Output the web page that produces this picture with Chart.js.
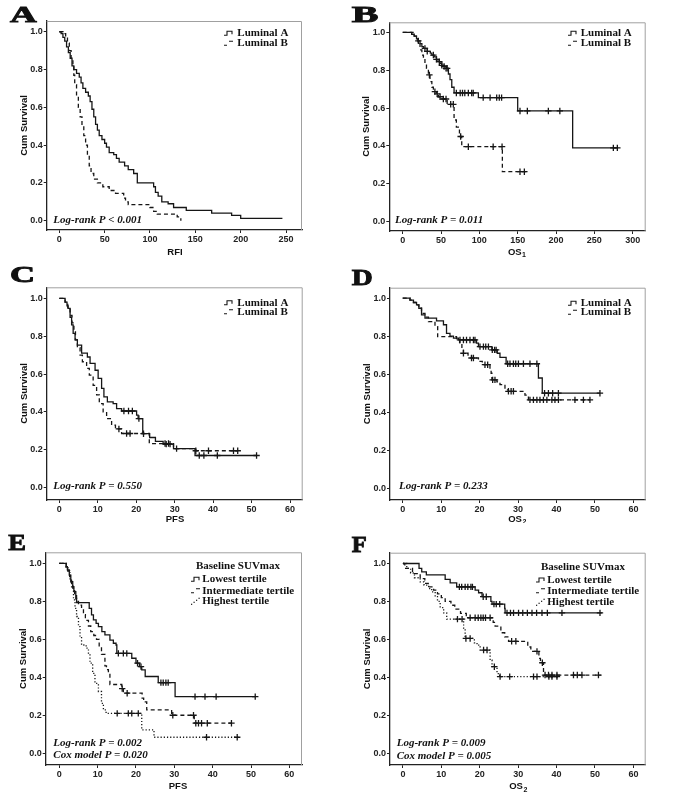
<!DOCTYPE html>
<html>
<head>
<meta charset="utf-8">
<script src="https://cdn.jsdelivr.net/npm/chart.js@4.4.1/dist/chart.umd.min.js"></script>
<style>
  html, body { margin: 0; padding: 0; background: #fff; }
  body { width: 685px; height: 811px; position: relative; overflow: hidden; }
  canvas { position: absolute; }
</style>
</head>
<body>
<script>
// Curvas de Kaplan-Meier: pares [tempo, sobrevida]; censuras: [tempo, nível]
const yTicks = [0, 0.2, 0.4, 0.6, 0.8, 1.0];
const ticksRFI = [0, 50, 100, 150, 200, 250];
const ticksOS1 = [0, 50, 100, 150, 200, 250, 300];
const ticks60 = [0, 10, 20, 30, 40, 50, 60];

// A - RFI
const rfiLumA = [[0,1],[2,0.99],[4,0.97],[6,0.95],[8,0.92],[10,0.89],[12,0.86],[14,0.82],[16,0.80],[19,0.78],[22,0.76],[24,0.73],[26,0.70],[29,0.68],[32,0.66],[34,0.63],[36,0.59],[38,0.55],[40,0.51],[42,0.48],[44,0.45],[47,0.43],[50,0.41],[52,0.39],[55,0.36],[60,0.35],[63,0.33],[66,0.31],[72,0.29],[76,0.27],[82,0.25],[86,0.20],[104,0.18],[106,0.15],[109,0.13],[113,0.10],[120,0.09],[126,0.07],[140,0.055],[168,0.04],[190,0.028],[200,0.013],[246,0.013]];
const rfiLumB = [[0,1],[4,0.99],[7,0.97],[9,0.94],[11,0.90],[13,0.86],[15,0.82],[16,0.77],[17,0.72],[19,0.66],[21,0.60],[23,0.55],[25,0.50],[27,0.45],[29,0.40],[31,0.34],[33,0.29],[35,0.25],[38,0.22],[42,0.20],[48,0.18],[55,0.16],[62,0.145],[71,0.12],[73,0.10],[76,0.085],[95,0.085],[100,0.07],[104,0.05],[108,0.035],[127,0.035],[130,0.02],[134,0]];

// B - OS1
const os1LumA = [[0,1],[11.7,0.99],[15,0.98],[18,0.965],[20,0.955],[22.6,0.94],[25,0.925],[27,0.915],[32,0.90],[36,0.89],[38,0.88],[41,0.87],[44,0.857],[46,0.845],[48.7,0.836],[51,0.826],[53,0.82],[57,0.81],[59.6,0.78],[61.7,0.75],[64,0.71],[67,0.68],[98.7,0.655],[150,0.585],[221.7,0.39],[281,0.39]];
const os1LumACens = [[20.4,0.955],[29,0.915],[32,0.90],[40,0.88],[44,0.857],[47.8,0.845],[51,0.826],[54,0.82],[56.5,0.81],[58,0.81],[70,0.68],[75,0.68],[78,0.68],[81,0.68],[85.6,0.68],[90,0.68],[92,0.68],[105,0.655],[114,0.655],[122.6,0.655],[126,0.655],[129,0.655],[153,0.585],[162.6,0.585],[190,0.585],[205,0.585],[274.8,0.39],[280,0.39]];
const os1LumB = [[0,1],[15,0.98],[20,0.95],[22.6,0.907],[25,0.88],[27,0.86],[29,0.835],[31,0.81],[33.5,0.775],[35.6,0.74],[38,0.71],[40,0.70],[42,0.687],[44,0.675],[46.5,0.66],[51,0.648],[58,0.62],[67,0.537],[70,0.50],[74,0.45],[77,0.396],[130,0.264],[162,0.264]];
const os1LumBCens = [[34.8,0.775],[42,0.687],[45,0.675],[48.7,0.66],[53,0.648],[56.5,0.648],[62.6,0.62],[66,0.62],[75.6,0.45],[85.6,0.396],[118,0.396],[129.6,0.396],[153,0.264],[158.7,0.264]];

// C - PFS (luminal)
const pfsLumA = [[0,1],[1.5,0.98],[2.0,0.96],[2.3,0.947],[2.8,0.90],[3.2,0.86],[3.6,0.815],[4.1,0.78],[4.7,0.753],[5.8,0.71],[7.3,0.69],[8.0,0.656],[9.3,0.62],[10.1,0.577],[11.0,0.524],[11.6,0.48],[12.5,0.453],[14.0,0.444],[14.9,0.417],[16.2,0.405],[20.1,0.383],[20.5,0.365],[21.7,0.285],[23.5,0.265],[25.0,0.245],[27.0,0.23],[29.7,0.206],[35.3,0.17],[51.3,0.17]];
const pfsLumACens = [[16.8,0.405],[18.0,0.405],[19.0,0.405],[20.7,0.365],[21.9,0.285],[27.8,0.23],[28.8,0.23],[36.4,0.17],[37.6,0.17],[41.1,0.17],[51.3,0.17]];
const pfsLumB = [[0,1],[1.5,0.98],[2.2,0.95],[2.8,0.91],[3.3,0.87],[3.8,0.83],[4.2,0.78],[4.7,0.74],[5.4,0.70],[6.0,0.665],[7.1,0.63],[7.8,0.594],[8.8,0.54],[9.7,0.49],[10.4,0.444],[11.4,0.40],[12.3,0.365],[13.6,0.33],[14.6,0.31],[16.2,0.286],[23.4,0.233],[29.7,0.206],[35.5,0.195],[46.4,0.195]];
const pfsLumBCens = [[15.5,0.31],[17.5,0.286],[18.4,0.286],[27.5,0.233],[28.4,0.233],[30.5,0.206],[35.5,0.195],[38.8,0.195],[45.3,0.195],[46.4,0.195]];

// D - OS2 (luminal)
const os2LumA = [[0,1],[1.9,0.99],[2.8,0.977],[3.6,0.965],[4.2,0.947],[4.9,0.912],[5.8,0.895],[8.8,0.88],[10.6,0.86],[11.4,0.815],[12.3,0.80],[13.2,0.79],[14.5,0.78],[19.2,0.763],[19.7,0.745],[23.2,0.728],[24.6,0.71],[25.3,0.688],[26.9,0.655],[35.3,0.58],[36.3,0.50],[51.3,0.50]];
const os2LumACens = [[14.9,0.78],[15.8,0.78],[16.6,0.78],[17.5,0.78],[18.4,0.78],[18.8,0.78],[20.1,0.745],[21.0,0.745],[21.6,0.745],[22.3,0.745],[23.3,0.728],[23.9,0.728],[24.3,0.728],[27.3,0.655],[27.9,0.655],[28.8,0.655],[29.4,0.655],[30.1,0.655],[31.4,0.655],[33.1,0.655],[34.9,0.655],[36.9,0.50],[37.9,0.50],[39.0,0.50],[40.5,0.50],[51.3,0.50]];
const os2LumB = [[0,1],[1.9,0.99],[2.8,0.977],[3.6,0.965],[4.2,0.947],[4.9,0.92],[5.8,0.90],[6.7,0.877],[8.4,0.85],[9.1,0.798],[14.0,0.78],[14.8,0.76],[15.4,0.736],[15.8,0.71],[17.0,0.70],[17.9,0.685],[19.7,0.667],[20.7,0.65],[22.7,0.624],[23.0,0.605],[23.2,0.57],[24.5,0.56],[25.3,0.545],[26.6,0.517],[27.5,0.51],[31.8,0.49],[32.7,0.465],[48.7,0.465]];
const os2LumBCens = [[15.8,0.71],[17.9,0.685],[18.4,0.685],[21.4,0.65],[22.1,0.65],[23.4,0.57],[24.0,0.57],[27.5,0.51],[28.2,0.51],[28.8,0.51],[33.1,0.465],[34.0,0.465],[34.9,0.465],[35.7,0.465],[36.6,0.465],[37.5,0.465],[38.8,0.465],[39.6,0.465],[40.5,0.465],[44.8,0.465],[47.0,0.465],[48.7,0.465]];

// E - PFS por tercil de SUVmax
const pfsLow = [[0,1],[1.8,0.982],[2.1,0.965],[2.6,0.938],[3.0,0.904],[3.5,0.877],[3.8,0.851],[4.3,0.815],[4.5,0.793],[7.8,0.763],[8.4,0.728],[8.9,0.702],[9.6,0.684],[10.2,0.667],[11.1,0.64],[11.9,0.623],[13.2,0.596],[14.1,0.579],[14.8,0.57],[15.0,0.526],[18.9,0.50],[20.0,0.474],[20.9,0.456],[21.5,0.439],[22.4,0.404],[25.8,0.372],[30.2,0.298],[51.2,0.298]];
const pfsLowCens = [[15.4,0.526],[16.7,0.526],[17.6,0.526],[20.4,0.474],[21.3,0.456],[26.5,0.372],[27.1,0.372],[27.8,0.372],[28.4,0.372],[35.4,0.298],[38.0,0.298],[40.9,0.298],[51.1,0.298]];
const pfsInt = [[0,1],[1.8,0.982],[2.2,0.96],[2.7,0.93],[3.1,0.90],[3.5,0.87],[4.0,0.84],[4.5,0.80],[5.0,0.78],[5.8,0.76],[6.3,0.73],[6.8,0.70],[7.6,0.67],[8.2,0.64],[9.0,0.62],[9.7,0.60],[10.4,0.56],[11.0,0.52],[11.9,0.46],[12.3,0.44],[12.8,0.42],[13.2,0.362],[16.3,0.34],[16.7,0.316],[21.6,0.29],[22.0,0.27],[22.8,0.228],[29.3,0.20],[35.2,0.158],[44.9,0.158]];
const pfsIntCens = [[16.4,0.34],[17.7,0.316],[29.6,0.20],[35.0,0.20],[35.6,0.158],[36.3,0.158],[37.1,0.158],[38.6,0.158],[44.9,0.158]];
const pfsHigh = [[0,1],[1.8,0.98],[2.3,0.95],[2.8,0.91],[3.2,0.87],[3.7,0.807],[4.1,0.763],[4.5,0.72],[5.0,0.667],[5.4,0.614],[5.8,0.57],[7.0,0.553],[7.6,0.518],[8.0,0.474],[8.7,0.42],[9.3,0.368],[10.2,0.325],[11.0,0.263],[11.5,0.228],[12.2,0.21],[21.5,0.123],[24.7,0.084],[46.7,0.084]];
const pfsHighCens = [[15.1,0.21],[18.0,0.21],[18.9,0.21],[20.6,0.21],[38.4,0.084],[46.4,0.084]];

// F - OS2 por tercil de SUVmax
const os2Low = [[0,1],[4.2,0.974],[4.9,0.956],[6.1,0.94],[11.0,0.916],[12.3,0.898],[14.0,0.877],[18.8,0.86],[19.7,0.846],[20.6,0.825],[22.9,0.80],[23.2,0.786],[26.5,0.763],[26.6,0.74],[51.8,0.74]];
const os2LowCens = [[14.7,0.877],[15.3,0.877],[16.2,0.877],[16.9,0.877],[17.7,0.877],[18.1,0.877],[20.9,0.825],[21.7,0.825],[23.7,0.786],[24.3,0.786],[25.2,0.786],[27.1,0.74],[28.0,0.74],[28.8,0.74],[30.1,0.74],[31.2,0.74],[32.4,0.74],[33.6,0.74],[34.8,0.74],[36.2,0.74],[37.6,0.74],[41.4,0.74],[51.3,0.74]];
const os2Int = [[0,1],[0.5,0.974],[2.5,0.947],[4.5,0.92],[5.7,0.895],[6.6,0.877],[8.0,0.86],[9.0,0.84],[10.0,0.82],[11.0,0.80],[12.5,0.78],[13.5,0.76],[15.0,0.737],[16.5,0.714],[23.5,0.69],[24.0,0.67],[25.5,0.635],[26.5,0.613],[27.5,0.59],[32.5,0.56],[33.3,0.537],[35.4,0.50],[35.8,0.477],[36.6,0.412],[51.5,0.412]];
const os2IntCens = [[17.5,0.714],[18.8,0.714],[19.6,0.714],[20.3,0.714],[20.9,0.714],[21.5,0.714],[22.7,0.714],[28.3,0.59],[29.4,0.59],[34.9,0.537],[36.3,0.477],[37.0,0.412],[37.9,0.412],[38.8,0.412],[40.1,0.412],[44.4,0.412],[45.4,0.412],[46.6,0.412],[50.9,0.412]];
const os2High = [[0,1],[1.0,0.974],[2.0,0.95],[3.0,0.925],[4.5,0.903],[5.5,0.886],[6.7,0.868],[7.5,0.85],[8.4,0.825],[9.0,0.80],[9.7,0.768],[10.6,0.74],[11.4,0.707],[15.8,0.65],[16.2,0.605],[18.6,0.582],[19.3,0.57],[20.1,0.544],[22.7,0.49],[23.2,0.456],[24.5,0.42],[25.2,0.404],[40.5,0.404]];
const os2HighCens = [[14.2,0.707],[15.4,0.707],[16.4,0.605],[17.5,0.605],[21.0,0.544],[21.9,0.544],[23.8,0.456],[25.3,0.404],[27.8,0.404],[34.0,0.404],[34.9,0.404],[38.0,0.404],[38.8,0.404],[40.1,0.404]];

const INK = '#161616';
const SOLID = [], DASH = [4, 3], DOT = [1.2, 2];

// Plugin: moldura, letras, títulos, legenda e textos de P
const panelText = {
    id: 'panelText',
    afterDraw(chart, args, o) {
        const ctx = chart.ctx;
        const ox = o.origin[0], oy = o.origin[1];
        const a = chart.chartArea;
        ctx.save();
        // moldura cinza no topo e à direita
        ctx.strokeStyle = '#a0a0a0';
        ctx.lineWidth = 1;
        ctx.beginPath();
        ctx.moveTo(a.left, a.top + 0.5);
        ctx.lineTo(a.right - 0.5, a.top + 0.5);
        ctx.lineTo(a.right - 0.5, a.bottom);
        ctx.stroke();

        ctx.fillStyle = '#111';
        // letra do painel (mais grossa, como no original)
        ctx.font = 'bold 23px "Liberation Serif", serif';
        ctx.textBaseline = 'alphabetic';
        ctx.textAlign = 'left';
        const lw = ctx.measureText(o.letter[0]).width;
        ctx.save();
        ctx.translate(o.letter[1] - ox, o.letter[2] - oy);
        ctx.scale(o.letter[3] / lw, 1);
        ctx.fillText(o.letter[0], 0, 0);
        ctx.strokeStyle = '#111';
        ctx.lineWidth = 0.9;
        ctx.strokeText(o.letter[0], 0, 0);
        ctx.restore();

        // título eixo y
        ctx.font = 'bold 9.5px "Liberation Sans", Arial, sans-serif';
        ctx.textAlign = 'center';
        ctx.textBaseline = 'middle';
        ctx.save();
        ctx.translate(o.yTitle[0] - ox, o.yTitle[1] - oy);
        ctx.rotate(-Math.PI / 2);
        ctx.fillText('Cum Survival', 0, 0);
        ctx.restore();

        // título eixo x (com subscrito opcional)
        const xt = o.xTitle;
        ctx.font = 'bold 9.5px "Liberation Sans", Arial, sans-serif';
        const w1 = ctx.measureText(xt[0]).width;
        ctx.font = 'bold 7px "Liberation Sans", Arial, sans-serif';
        const w2 = xt[1] ? ctx.measureText(xt[1]).width : 0;
        const sx = xt[2] - ox - (w1 + w2) / 2;
        ctx.textAlign = 'left';
        ctx.font = 'bold 9.5px "Liberation Sans", Arial, sans-serif';
        ctx.fillText(xt[0], sx, xt[3] - oy);
        if (xt[1]) {
            ctx.font = 'bold 7px "Liberation Sans", Arial, sans-serif';
            ctx.fillText(xt[1], sx + w1 + 0.5, xt[3] - oy + 3);
        }

        // textos de P
        ctx.font = 'italic bold 11px "Liberation Serif", serif';
        o.pTexts.forEach(p => ctx.fillText(p[0], p[1] - ox, p[2] - oy));

        // legenda
        ctx.font = 'bold 11px "Liberation Serif", serif';
        if (o.legendTitle) {
            ctx.fillText(o.legendTitle[0], o.legendTitle[1] - ox, o.legendTitle[2] - oy);
        }
        o.legend.forEach(it => {
            const tx = it.x - ox, ty = it.y - oy, gx = it.gx - ox;
            ctx.fillText(it.label, tx, ty);
            ctx.strokeStyle = INK;
            ctx.lineWidth = 1.1;
            ctx.beginPath();
            if (it.style === 'solid') {
                ctx.moveTo(gx, ty + 2); ctx.lineTo(gx + 3, ty + 2); ctx.lineTo(gx + 3, ty - 2);
                ctx.lineTo(gx + 8, ty - 2); ctx.lineTo(gx + 8, ty + 1);
                ctx.stroke();
            } else if (it.style === 'dash') {
                ctx.moveTo(gx, ty + 2); ctx.lineTo(gx + 3, ty + 2);
                ctx.moveTo(gx + 5, ty - 2); ctx.lineTo(gx + 9, ty - 2);
                ctx.stroke();
            } else {
                ctx.fillStyle = INK;
                [[0, 3], [2.5, 1], [5, -1], [7.5, -3]].forEach(d => ctx.fillRect(gx + d[0], ty + d[1], 1.2, 1.2));
                ctx.fillStyle = '#111';
            }
        });
        ctx.restore();
    }
};

function xy(arr) {
    return arr.map(p => ({ x: p[0], y: p[1] }));
}

function makePanel(p) {
    const [bx, by, bw, bh] = p.box;
    const [L, T, R, B] = p.frame;
    const canvas = document.createElement('canvas');
    canvas.width = bw;
    canvas.height = bh;
    canvas.style.left = bx + 'px';
    canvas.style.top = by + 'px';
    document.body.appendChild(canvas);

    const datasets = [];
    p.series.forEach(s => {
        datasets.push({
            data: xy(s.curve), showLine: true, stepped: true,
            borderColor: INK, borderWidth: 1.3, borderDash: s.dash,
            pointRadius: 0, fill: false
        });
        if (s.cens) {
            datasets.push({
                data: xy(s.cens), showLine: false, pointStyle: 'cross',
                pointRadius: 3.2, borderColor: INK, borderWidth: 1.3
            });
        }
    });

    const tickFont = { family: '"Liberation Sans", Arial, sans-serif', size: 9, weight: 'bold' };
    new Chart(canvas, {
        type: 'scatter',
        data: { datasets },
        options: {
            responsive: false,
            animation: false,
            events: [],
            layout: { padding: { top: T - by, right: bx + bw - R, left: 0, bottom: 0 } },
            plugins: { legend: { display: false }, tooltip: { enabled: false }, panelText: p.text },
            scales: {
                x: {
                    type: 'linear', min: p.xRange[0], max: p.xRange[1],
                    afterFit: s => { s.height = by + bh - B; },
                    afterBuildTicks: s => { s.ticks = p.xTicks.map(v => ({ value: v })); },
                    grid: { drawOnChartArea: false, tickLength: 3, color: '#222' },
                    border: { color: '#222', width: 1.3 },
                    ticks: { color: '#222', font: tickFont, padding: 1, maxRotation: 0 }
                },
                y: {
                    type: 'linear', min: p.yRange[0], max: p.yRange[1],
                    afterFit: s => { s.width = L - bx; },
                    afterBuildTicks: s => { s.ticks = yTicks.map(v => ({ value: v })); },
                    grid: { drawOnChartArea: false, tickLength: 3, color: '#222' },
                    border: { color: '#222', width: 1.3 },
                    ticks: { color: '#222', font: tickFont, padding: 1, callback: v => v.toFixed(1) }
                }
            }
        },
        plugins: [panelText]
    });
}

const lumLegend = (gx, x, y1, y2) => [
    { label: 'Luminal A', style: 'solid', gx, x, y: y1 },
    { label: 'Luminal B', style: 'dash', gx, x, y: y2 }
];
const tertLegend = (gx, x, y1, y2, y3) => [
    { label: 'Lowest tertile', style: 'solid', gx, x, y: y1 },
    { label: 'Intermediate tertile', style: 'dash', gx, x, y: y2 },
    { label: 'Highest tertile', style: 'dot', gx, x, y: y3 }
];

const panels = [
    {
        box: [0, 0, 312, 258], frame: [46.7, 21, 302, 230],
        xRange: [-13.9, 267.6], yRange: [-0.049, 1.057], xTicks: ticksRFI,
        series: [{ curve: rfiLumA, dash: SOLID }, { curve: rfiLumB, dash: DASH }],
        text: {
            origin: [0, 0], letter: ['A', 10, 21.7, 26.7], yTitle: [24.3, 125.5], xTitle: ['RFI', '', 175, 252],
            pTexts: [['Log-rank P < 0.001', 53.3, 220]], legend: lumLegend(224, 237.3, 33.3, 43.3)
        }
    },
    {
        box: [340, 0, 345, 258], frame: [389.3, 22.3, 645.7, 231],
        xRange: [-17.5, 317], yRange: [-0.049, 1.053], xTicks: ticksOS1,
        series: [{ curve: os1LumA, cens: os1LumACens, dash: SOLID }, { curve: os1LumB, cens: os1LumBCens, dash: DASH }],
        text: {
            origin: [340, 0], letter: ['B', 351.7, 21.7, 26.7], yTitle: [366.7, 126.5], xTitle: ['OS', '1', 516.7, 252],
            pTexts: [['Log-rank P = 0.011', 395, 220]], legend: lumLegend(568, 580.7, 33.3, 43.3)
        }
    },
    {
        box: [0, 258, 312, 265], frame: [46.7, 287.3, 302.7, 500],
        xRange: [-3.28, 63.3], yRange: [-0.065, 1.058], xTicks: ticks60,
        series: [{ curve: pfsLumA, cens: pfsLumACens, dash: SOLID }, { curve: pfsLumB, cens: pfsLumBCens, dash: DASH }],
        text: {
            origin: [0, 258], letter: ['C', 10, 281.7, 25], yTitle: [24.3, 393.5], xTitle: ['PFS', '', 175, 519],
            pTexts: [['Log-rank P = 0.550', 53.3, 485.7]], legend: lumLegend(224, 237.3, 302.7, 311.7)
        }
    },
    {
        box: [340, 258, 345, 265], frame: [390, 287.7, 645.7, 500],
        xRange: [-3.3, 63.2], yRange: [-0.062, 1.055], xTicks: ticks60,
        series: [{ curve: os2LumA, cens: os2LumACens, dash: SOLID }, { curve: os2LumB, cens: os2LumBCens, dash: DASH }],
        text: {
            origin: [340, 258], letter: ['D', 351.7, 284.5, 21], yTitle: [367.5, 393.8], xTitle: ['OS', '2', 517, 519],
            pTexts: [['Log-rank P = 0.233', 399, 485.7]], legend: lumLegend(568, 580.7, 303.3, 312.3)
        }
    },
    {
        box: [0, 523, 312, 288], frame: [45.7, 552.3, 302, 765],
        xRange: [-3.55, 63.3], yRange: [-0.062, 1.058], xTicks: ticks60,
        series: [
            { curve: pfsLow, cens: pfsLowCens, dash: SOLID },
            { curve: pfsInt, cens: pfsIntCens, dash: DASH },
            { curve: pfsHigh, cens: pfsHighCens, dash: DOT }
        ],
        text: {
            origin: [0, 523], letter: ['E', 8.3, 550, 17.7], yTitle: [23.3, 658.6], xTitle: ['PFS', '', 178, 786.7],
            pTexts: [['Log-rank P = 0.002', 53.3, 742.7], ['Cox model P = 0.020', 53.3, 755]],
            legendTitle: ['Baseline SUVmax', 196, 565.7],
            legend: tertLegend(191, 202.3, 579.3, 590.7, 600.7)
        }
    },
    {
        box: [340, 523, 345, 288], frame: [390, 552.7, 645.7, 765],
        xRange: [-3.36, 63.2], yRange: [-0.062, 1.057], xTicks: ticks60,
        series: [
            { curve: os2Low, cens: os2LowCens, dash: SOLID },
            { curve: os2Int, cens: os2IntCens, dash: DASH },
            { curve: os2High, cens: os2HighCens, dash: DOT }
        ],
        text: {
            origin: [340, 523], letter: ['F', 351.7, 551.7, 15], yTitle: [367.5, 659], xTitle: ['OS', '2', 518, 786.7],
            pTexts: [['Log-rank P = 0.009', 396.7, 742.7], ['Cox model P = 0.005', 396.7, 756]],
            legendTitle: ['Baseline SUVmax', 541, 566.7],
            legend: tertLegend(536, 547.3, 580, 590.7, 601.7)
        }
    }
];

panels.forEach(makePanel);
</script>
</body>
</html>
